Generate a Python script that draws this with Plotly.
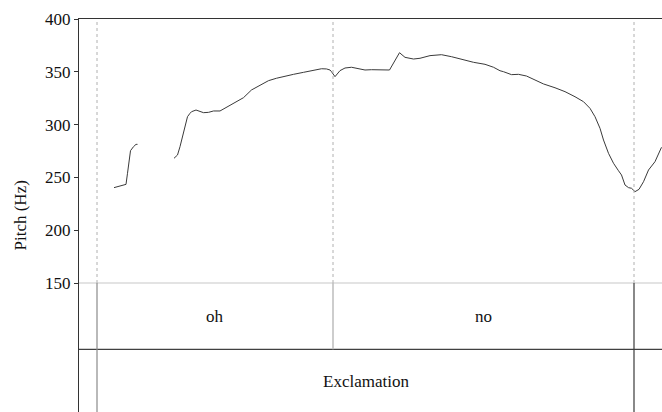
import plotly.graph_objects as go

# ---- data ----
seg1_t = [0.070, 0.079, 0.085, 0.094, 0.097, 0.101, 0.103, 0.109, 0.114, 0.117]
seg1_hz = [240.3, 241.2, 242.1, 243.4, 253.9, 269.6, 275.3, 279.1, 281.3, 281.3]

seg2_t = [0.190, 0.197, 0.202, 0.207, 0.212, 0.217, 0.222, 0.225, 0.234, 0.242,
          0.249, 0.259, 0.269, 0.282, 0.289, 0.302, 0.315, 0.329, 0.345, 0.362,
          0.379, 0.395, 0.412, 0.429, 0.449, 0.469, 0.485, 0.495, 0.502, 0.505,
          0.512, 0.522, 0.532, 0.545, 0.559, 0.572, 0.585, 0.599, 0.621, 0.641,
          0.652, 0.669, 0.682, 0.702, 0.725, 0.745, 0.765, 0.789, 0.812, 0.829,
          0.842, 0.849, 0.865, 0.879, 0.895, 0.912, 0.929, 0.952, 0.972, 0.992,
          1.009, 1.022, 1.032, 1.042, 1.049, 1.059, 1.069, 1.079, 1.085, 1.092,
          1.099, 1.105, 1.112, 1.120, 1.129, 1.139, 1.152, 1.165]
seg2_hz = [268.1, 271.2, 279.1, 288.5, 297.5, 307.5, 310.7, 312.2, 313.8, 312.4,
           311.3, 311.6, 312.9, 312.9, 314.8, 317.9, 321.1, 325.5, 332.8, 337.5,
           341.6, 343.9, 346.0, 347.6, 349.5, 351.7, 352.9, 352.7, 351.7, 350.1,
           345.4, 351.1, 353.6, 354.3, 353.0, 351.7, 352.0, 351.7, 351.7, 368.1,
           363.7, 362.1, 362.8, 365.3, 366.2, 364.3, 361.8, 359.0, 357.1, 354.3,
           351.0, 350.1, 347.3, 347.6, 346.0, 342.2, 338.5, 334.9, 331.2, 326.4,
           321.7, 315.4, 307.5, 296.5, 285.4, 272.8, 263.4, 256.3, 252.3, 242.8,
           240.3, 239.7, 236.5, 238.7, 245.9, 257.0, 264.9, 278.5]

boundaries = [0.036, 0.508, 1.110]
words = ["oh", "no"]
phrase = ["Exclamation"]
y_ticks = [150, 200, 250, 300, 350, 400]
x_max = 1.166
y_min, y_max = 27.84, 400

FONT = "Liberation Serif"
FS = 17

# paper positions of tiers
tier_top = 129 / 393
tier_mid = 62.7 / 393

fig = go.Figure()
for t, hz in [(seg1_t, seg1_hz), (seg2_t, seg2_hz)]:
    fig.add_trace(go.Scatter(x=t, y=hz, mode="lines",
                             line=dict(color="#3a3a3a", width=1),
                             showlegend=False, hoverinfo="skip"))

shapes = []
shapes.append(dict(type="line", xref="paper", yref="y", x0=0, x1=1, y0=150, y1=150,
                   line=dict(color="#c8c8c8", width=1.2)))
shapes.append(dict(type="line", xref="paper", yref="paper", x0=0, x1=1,
                   y0=tier_mid, y1=tier_mid, line=dict(color="#404040", width=1.3)))
for b in boundaries:
    shapes.append(dict(type="line", xref="x", yref="y", x0=b, x1=b, y0=150, y1=400,
                       line=dict(color="#b0b0b0", width=1, dash="dot")))
shapes.append(dict(type="line", xref="x", yref="paper", x0=boundaries[0], x1=boundaries[0],
                   y0=0, y1=tier_top, line=dict(color="#8a8a8a", width=1.2)))
shapes.append(dict(type="line", xref="x", yref="paper", x0=boundaries[1], x1=boundaries[1],
                   y0=tier_mid, y1=tier_top, line=dict(color="#bdbdbd", width=1.5)))
shapes.append(dict(type="line", xref="x", yref="paper", x0=boundaries[2], x1=boundaries[2],
                   y0=0, y1=tier_top, line=dict(color="#3a3a3a", width=1.2)))

annotations = []
for i, w in enumerate(words):
    annotations.append(dict(x=(boundaries[i] + boundaries[i + 1]) / 2, xref="x",
                            y=96 / 393, yref="paper", text=w, showarrow=False,
                            font=dict(family=FONT, size=FS, color="#111"),
                            xanchor="center", yanchor="middle"))
annotations.append(dict(x=(boundaries[0] + boundaries[2]) / 2, xref="x",
                        y=31 / 393, yref="paper", text=phrase[0], showarrow=False,
                        font=dict(family=FONT, size=FS, color="#111"),
                        xanchor="center", yanchor="middle"))
annotations.append(dict(x=(20 - 79) / 583, xref="paper", y=0.5, yref="paper",
                        text="Pitch (Hz)", textangle=-90, showarrow=False,
                        font=dict(family=FONT, size=FS, color="#111"),
                        xanchor="center", yanchor="middle"))

fig.update_layout(
    width=662, height=412,
    margin=dict(l=79, r=0, t=19, b=0),
    paper_bgcolor="white", plot_bgcolor="white",
    font=dict(family=FONT, size=FS, color="#111"),
    shapes=shapes, annotations=annotations,
    xaxis=dict(range=[0, x_max], showgrid=False, zeroline=False, showline=True,
               linecolor="#333", linewidth=1.3, side="top", showticklabels=False,
               ticks=""),
    yaxis=dict(range=[y_min, y_max], tickvals=y_ticks, showgrid=False, zeroline=False,
               showline=True, linecolor="#333", linewidth=1.3, ticks="outside",
               ticklen=4, tickcolor="#333", tickwidth=1,
               tickfont=dict(family=FONT, size=FS, color="#111")),
)

fig.write_html("out.html")
